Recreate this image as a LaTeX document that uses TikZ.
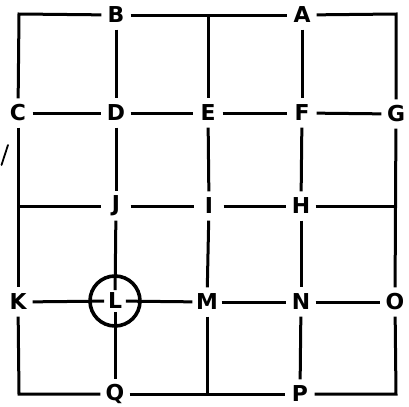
\documentclass[tikz,border=0pt]{standalone}
\usepackage{fontspec}
\setmainfont{DejaVu Sans}
\begin{document}
\begin{tikzpicture}[x=1bp,y=-1bp,
  lbl/.style={circle,inner sep=0pt,minimum size=29bp,font=\fontsize{22}{22}\selectfont\bfseries},
  lblin/.style={circle,inner sep=0pt,minimum size=21bp,font=\fontsize{22}{22}\selectfont\bfseries},
  ring/.style={circle,draw,line width=3.6bp,inner sep=0pt,minimum size=50bp},
  gridline/.style={line width=3bp,line join=miter,line cap=butt},
  stray/.style={line width=1.8bp,line cap=round}]
\useasboundingbox (0,0) rectangle (409,407);
% corners and junctions
\coordinate (TL) at (19,14);
\coordinate (TR) at (396,14);
\coordinate (BL) at (19,394);
\coordinate (BR) at (396,394);
\coordinate (T3) at (208,14);
\coordinate (B3) at (207,394);
\coordinate (L3) at (19,206);
\coordinate (R3) at (396,206);
% labels
\node[lbl] (B) at (116,15) {B};
\node[lbl] (A) at (302,15) {A};
\node[lbl] (C) at (18,113) {C};
\node[lbl] (D) at (116,113) {D};
\node[lbl] (E) at (208,113) {E};
\node[lbl] (F) at (302,113) {F};
\node[lbl] (G) at (396,114) {G};
\node[lbl] (J) at (116,206) {J};
\node[lbl] (I) at (209,206) {I};
\node[lbl] (H) at (301,206) {H};
\node[lbl] (K) at (18,302) {K};
\node[ring] (Lc) at (115,301) {};
\node[lblin] (L) at (115,301) {L};
\node[lbl] (M) at (207,302) {M};
\node[lbl] (N) at (301,302) {N};
\node[lbl] (O) at (395,302) {O};
\node[lbl] (Q) at (115,394) {Q};
\node[lbl] (P) at (300,394) {P};
% horizontal lines
\draw[gridline] (C) -- (TL) -- (B);
\draw[gridline] (B) -- (A);
\draw[gridline] (A) -- (TR) -- (G);
\draw[gridline] (C) -- (D);
\draw[gridline] (D) -- (E);
\draw[gridline] (E) -- (F);
\draw[gridline] (F) -- (G);
\draw[gridline] (L3) -- (J);
\draw[gridline] (J) -- (I);
\draw[gridline] (I) -- (H);
\draw[gridline] (H) -- (R3);
\draw[gridline] (K) -- (L);
\draw[gridline] (L) -- (M);
\draw[gridline] (M) -- (N);
\draw[gridline] (N) -- (O);
\draw[gridline] (K) -- (BL) -- (Q);
\draw[gridline] (Q) -- (P);
\draw[gridline] (P) -- (BR) -- (O);
% vertical lines
\draw[gridline] (C) -- (K);
\draw[gridline] (G) -- (O);
\draw[gridline] (B) -- (D);
\draw[gridline] (D) -- (J);
\draw[gridline] (J) -- (L);
\draw[gridline] (L) -- (Q);
\draw[gridline] (T3) -- (E);
\draw[gridline] (E) -- (I);
\draw[gridline] (I) -- (M);
\draw[gridline] (M) -- (B3);
\draw[gridline] (A) -- (F);
\draw[gridline] (F) -- (H);
\draw[gridline] (H) -- (N);
\draw[gridline] (N) -- (P);
% stray mark at left
\draw[stray] (1.5,165) -- (8,145);
\end{tikzpicture}
\end{document}
